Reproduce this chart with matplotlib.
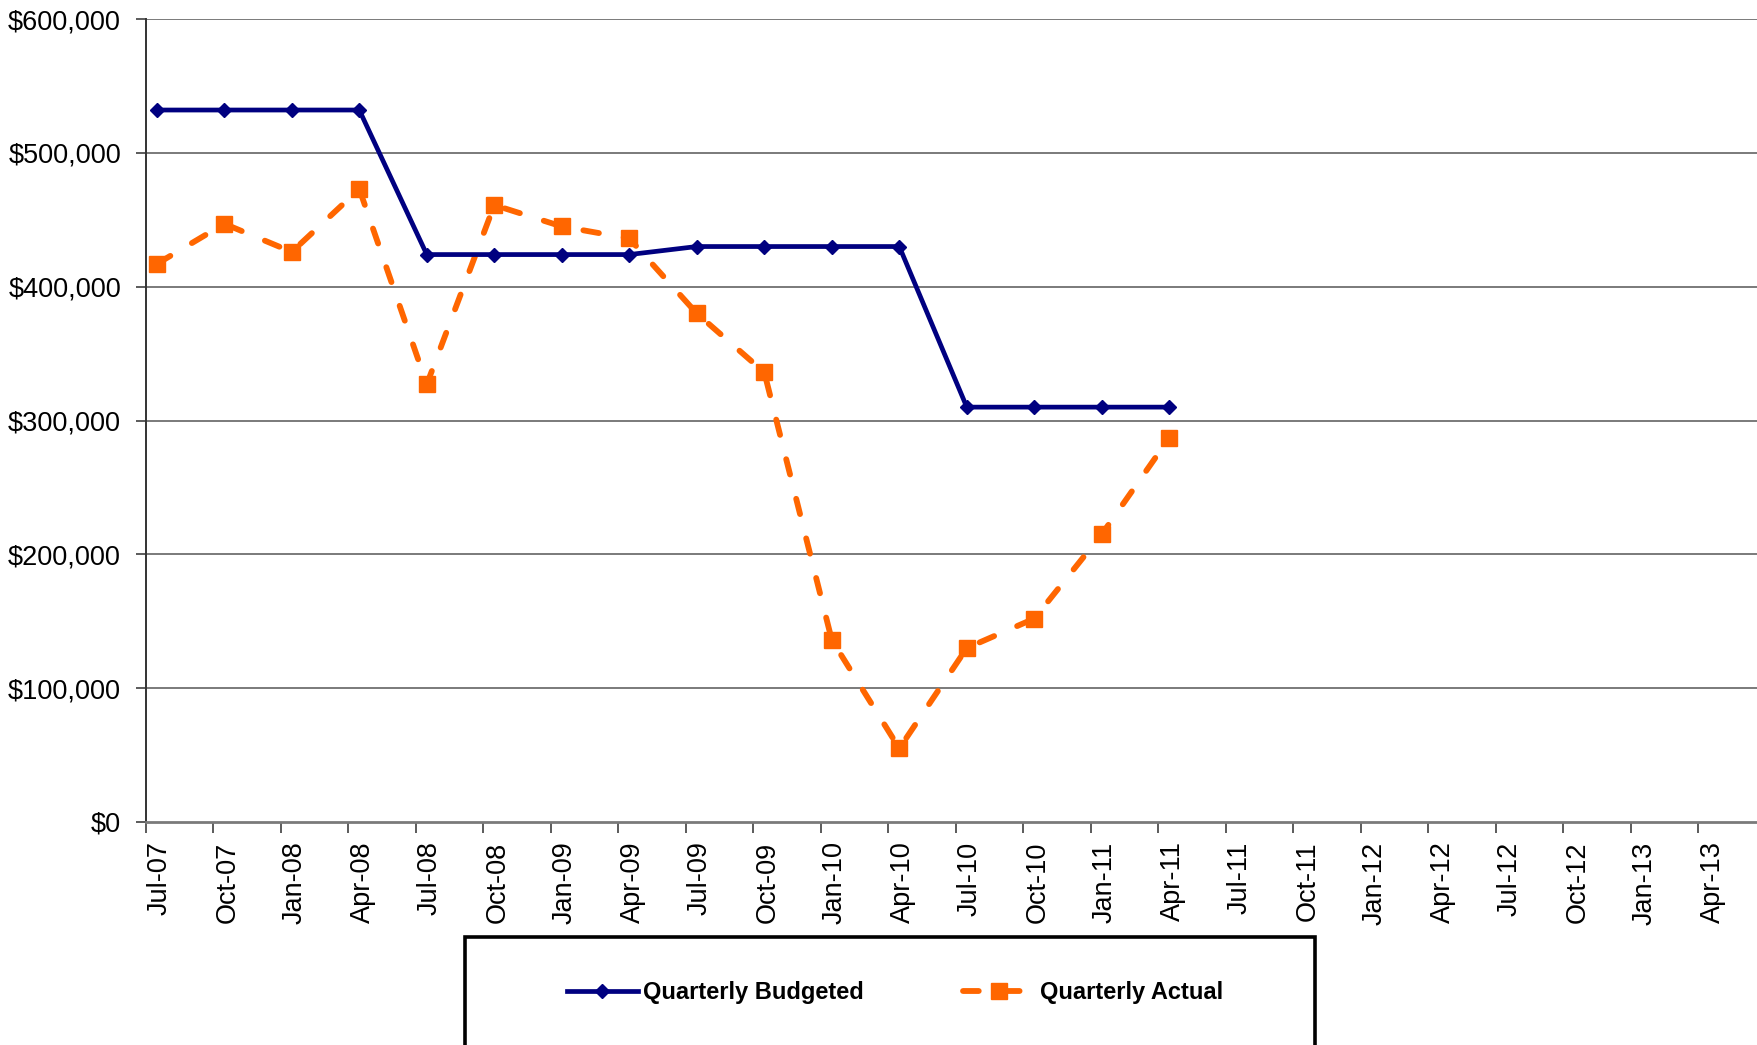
import matplotlib
matplotlib.use('Agg')
import matplotlib.pyplot as plt
from matplotlib.patches import Rectangle
from matplotlib.ticker import FuncFormatter
from matplotlib.transforms import ScaledTranslation

plt.rcParams['font.family'] = ['Liberation Sans', 'DejaVu Sans']

# quarterly periods on the date axis
quarters = ['Jul-07', 'Oct-07', 'Jan-08', 'Apr-08', 'Jul-08', 'Oct-08', 'Jan-09', 'Apr-09',
            'Jul-09', 'Oct-09', 'Jan-10', 'Apr-10', 'Jul-10', 'Oct-10', 'Jan-11', 'Apr-11',
            'Jul-11', 'Oct-11', 'Jan-12', 'Apr-12', 'Jul-12', 'Oct-12', 'Jan-13', 'Apr-13']

budgeted = [532000, 532000, 532000, 532000, 424000, 424000, 424000, 424000,
            430000, 430000, 430000, 430000, 310000, 310000, 310000, 310000]
actual = [417000, 447000, 426000, 473000, 327000, 461000, 445000, 436000,
          380000, 336000, 136000, 55000, 130000, 152000, 215000, 287000]

y_ticks = [0, 100000, 200000, 300000, 400000, 500000, 600000]

# values are recorded mid-month, so they sit a bit right of each quarter tick
mid_month = 0.16

fig = plt.figure(figsize=(17.58, 10.45), dpi=100)
ax = fig.add_axes([146 / 1758, 0.2134, 1620 / 1758, 0.7684])

for v in y_ticks[1:]:
    ax.axhline(v, color='#7a7a7a', lw=1.4, zorder=1)

x_b = [i + mid_month for i in range(len(budgeted))]
x_a = [i + mid_month for i in range(len(actual))]

ax.plot(x_b, budgeted, color='#000080', lw=3.4, marker='D', markersize=7.6,
        label='Quarterly Budgeted', zorder=3)
ax.plot(x_a, actual, color='#FF6600', lw=4.2, marker='s', markersize=12,
        dashes=(2.7, 4.3), dash_capstyle='round',
        label='Quarterly Actual', zorder=2)

ax.set_xlim(0, len(quarters))
ax.set_ylim(0, 600000)

ax.set_xticks(range(len(quarters)))
ax.set_xticklabels(quarters, rotation=90, fontsize=19.5, va='top', ha='center')
ax.tick_params(axis='x', length=8, width=1.2, color='#404040', direction='out', pad=6)
# shift the rotated labels so they start at their tick
shift = ScaledTranslation(14 / 100, 0, fig.dpi_scale_trans)
for lbl in ax.get_xticklabels():
    lbl.set_transform(lbl.get_transform() + shift)

ax.set_yticks(y_ticks)
ax.yaxis.set_major_formatter(FuncFormatter(lambda v, p: '${:,.0f}'.format(v)))
ax.tick_params(axis='y', length=7, width=1.2, color='#404040', labelsize=19.5, pad=11)

for s in ['top', 'right']:
    ax.spines[s].set_visible(False)
ax.spines['left'].set_color('#333333')
ax.spines['left'].set_linewidth(1.4)
ax.spines['bottom'].set_color('#7a7a7a')
ax.spines['bottom'].set_linewidth(2.0)

# legend box runs off the bottom of the figure
fig.patches.append(Rectangle((465 / 1758, -0.05), 850 / 1758, (1045 - 937) / 1045 + 0.05,
                             transform=fig.transFigure, fill=False, ec='black', lw=2.6,
                             clip_on=False))
fig.legend(loc='center', bbox_to_anchor=(895 / 1758, 1 - 993 / 1045), ncol=2, frameon=False,
           prop={'weight': 'bold', 'size': 17}, handlelength=3.0, handletextpad=0.25,
           columnspacing=4.2)

fig.savefig('out.png', dpi=100)
